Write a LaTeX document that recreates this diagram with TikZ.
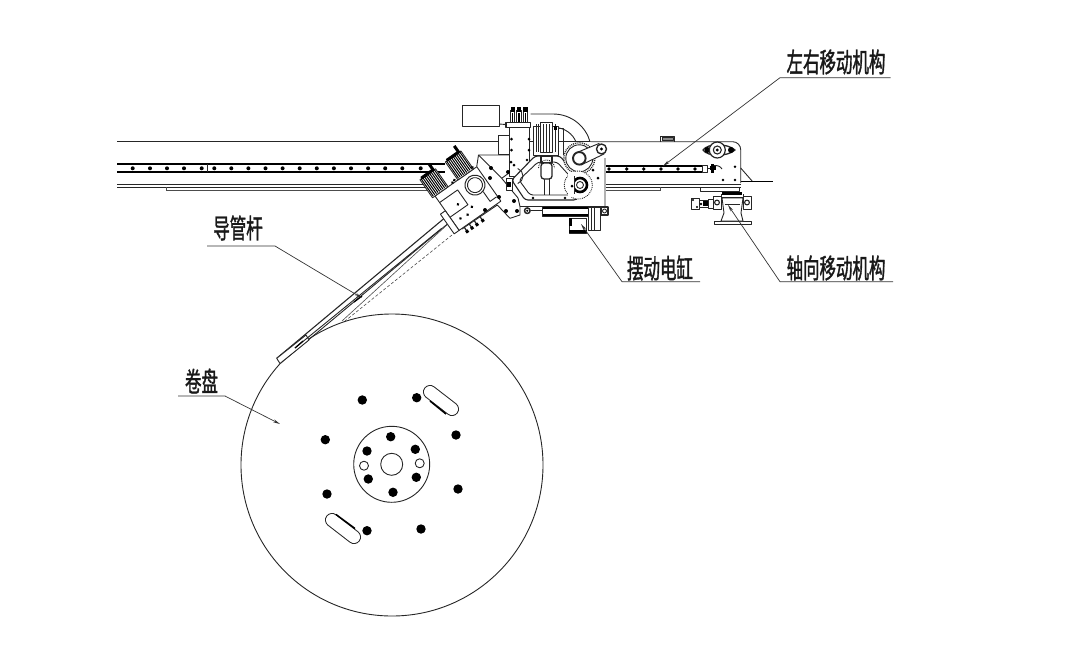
\documentclass[tikz,border=0pt]{standalone}
\usepackage{fontspec}
\usetikzlibrary{arrows.meta}
\newfontfamily\cjk[FakeStretch=0.61,FakeBold=1.3]{Noto Sans CJK SC}
\tikzset{
  ln/.style={draw=black!85,line width=0.9pt,line join=round},
  thin ln/.style={draw=black!70,line width=0.6pt},
  heavy/.style={draw=black,line width=2pt},
  part/.style={draw=black!85,line width=0.9pt,fill=white,line join=round},
  lbl/.style={inner sep=0pt,font=\cjk\fontsize{27}{27}\selectfont,text=black!90},
  lead/.style={draw=black!80,line width=0.7pt},
  tip/.style={-{Stealth[length=7pt,width=3pt]}}
}
\begin{document}
\begin{tikzpicture}[x=1pt,y=-1pt]
\useasboundingbox (0,0) rectangle (1080,657);
% ---- reel
\draw[ln] (392,465) circle (151);
\draw[ln] (391.7,464.3) circle (38);
\draw[ln] (391.7,464.3) circle (11);
\foreach \p in {(364,465.7),(419.7,463.3)} \draw[ln] \p circle (4.5);
\foreach \p in {(390.7,436.7),(367,451),(415.3,449.3),(368.3,479),(416.3,477.3),(393,492.3),
  (362.3,400),(416.7,397.7),(325.3,439.7),(456,435),(327,494),(458,489),(367,530.7),(421,529)}
  \fill[black] \p circle (4.7);
\draw[black!85,line width=14pt,line cap=round] (430,392) -- (452,409);
\draw[white,line width=12pt,line cap=round] (430,392) -- (452,409);
\draw[line width=1.5pt] (430,401) -- (446,414);
\draw[black!85,line width=14pt,line cap=round] (332,520) -- (354,537);
\draw[white,line width=12pt,line cap=round] (332,520) -- (354,537);
\draw[line width=1.5pt] (336,514.5) -- (355,528.5);
% ---- rail, left
\draw[ln] (117,141.7) -- (498,141.7);
\draw[heavy] (117,164.3) -- (445,164.3);
\draw[heavy] (117,172.3) -- (445,172.3);
\draw[ln] (207.7,164.3) -- (207.7,172.3);
\foreach \x in {132.7,150,167,184,201.7,214.3,231.3,248.4,265.5,282.6,299.7,316.8,333.9,351,368.1,385.2,402.3,420.7}
  \fill[black] (\x,168.3) circle (2);
\draw[ln,line width=1.2pt] (117,184.6) -- (445,184.6);
\draw[ln] (117,187) -- (445,187);
\draw[thin ln] (166,187) -- (166,190.5) -- (440,190.5);
% ---- rail, right
\draw[ln,rounded corners=8pt] (590,141.7) -- (740.7,141.7) -- (740.7,183);
\draw[heavy] (606,166) -- (701.7,166);
\draw[heavy] (606,172.3) -- (701.7,172.3);
\foreach \x in {609,626.7,643.7,661,678,695} \fill[black] (\x,169) circle (1.9);
\draw[ln,line width=1.2pt] (606,184.6) -- (741,184.6);
\draw[ln] (606,187) -- (741,187);
\draw[thin ln] (606,190.5) -- (660,190.5) -- (660,187);
\draw[ln] (700,187) -- (700,191.2) -- (739,191.2) -- (739,187);
\draw[ln] (660,141.7) -- (660,136.3) -- (674.5,136.3) -- (674.5,141.7);
\draw[ln,fill=black!45] (662,137.5) rectangle (673,140.5);
% wire
\draw[ln] (740.7,168) -- (752.7,181.7);
\draw[line width=1.3pt] (740.7,181.7) -- (773,181.7);
% bearing
\draw[ln,line width=1.3pt] (703,150) .. controls (708,143) and (727,143) .. (735,150) .. controls (727,157) and (708,157) .. (703,150) -- cycle;
\fill[black] (707.5,150) circle (3) (731,150) circle (3);
\draw[part,line width=1.2pt] (717.3,150) circle (8);
\draw[ln,line width=1.1pt] (717.3,150) circle (4);
\fill[black] (717.3,150) circle (1.6);
% coupling
\draw[part] (702,165) rectangle (707,172);
\draw[ln] (707,168) -- (711,168);
\fill[black] (711,163.5) rectangle (714,172.5);
\fill[black] (709.5,165.5) rectangle (716,170);
\draw[ln] (714,165.5) .. controls (718,165.5) and (720,166) .. (722,169);
% plate dots
\foreach \p in {(735,166.7),(735,180),(723,180)} \fill[black] \p circle (1.4);
% ---- axial unit
\draw[part] (714,221) rectangle (751.7,224.6);
\draw[part] (722,198) -- (724,213) -- (721,221) -- (743,221) -- (741,213) -- (743,198) -- cycle;
\draw[ln] (724.5,204) -- (739.5,204);
\fill[black] (722,192) rectangle (742,194.5);
\draw[ln,line width=1.2pt] (720,197.5) -- (744,197.5);
\draw[ln] (721,194) -- (721,198) (743,194) -- (743,198);
\draw[part] (713,196) rectangle (721,209);
\draw[part] (743,196) rectangle (751,209);
\draw[ln,line width=1.1pt] (717,202.5) circle (2.4) (747,202.5) circle (2.4);
\draw[part] (691,198.5) rectangle (699,209.5);
\draw[part] (699,200.5) rectangle (708,207.5);
\draw[part] (708,199) rectangle (713,208);
\fill[black] (693,200) circle (1.2) (697,207) circle (1.2) (701,204) circle (1.4);
\fill[black] (703,201) rectangle (708,206);
% ---- guide tube
\draw[ln,line width=1.1pt] (447,216) -- (276.7,358.3);
\draw[ln] (451,221) -- (280.7,363);
\draw[part] (276.7,358.3) -- (280,363.5) -- (309,340) -- (306,335) -- cycle;
\draw[line width=1.3pt] (362,296) -- (354,302);
\draw[ln] (441.7,228.3) -- (295,348);
\draw[line width=1.2pt] (303,341) -- (295,348);
\draw[thin ln,densely dashed] (452,235) -- (345,321);
\draw[thin ln] (448,224) -- (342,321);
% ---- cable arcs
\draw[ln] (530.7,114) -- (553,114) .. controls (572,114) and (586,127) .. (590,141.7);
\draw[ln] (555,127.3) .. controls (565,128) and (573,134) .. (576,142);
% ---- top left box
\draw[ln,line width=1pt] (462.7,105) rectangle (499.3,126.7);
% ---- machine body plate
\fill[white] (498.3,142) -- (590,142) -- (605,150) -- (605,206.5) -- (520,206.5) -- (520,215) -- (510,218.3) -- (497.3,205) -- (481.7,216.7) -- (462,229) -- (435,196) -- (476.7,166.7) -- (478.5,155) -- cycle;
\draw[ln] (605,158) -- (605,206.5) -- (520,206.5) -- (520,215) -- (510,218.3) -- (497.3,205) -- (462,229);
\draw[ln] (476.7,166.7) -- (478.5,155) -- (509,155);
\draw[part] (498.3,135.7) rectangle (509.3,154);
\draw[ln] (509.3,141.7) -- (590,141.7);
% ---- left plate contour
\draw[ln] (478.5,155) -- (501.7,178.3) -- (509,173);
\draw[ln] (501.7,178.3) -- (518,198) -- (520,206.5);
% ---- column and valves
\draw[part] (509.3,127) rectangle (529.3,176);
\draw[part,line width=1.2pt] (506,122.3) rectangle (530.7,127.3);
\draw[ln] (506,124.5) -- (499,124);
\foreach \x in {512.7,519,525.3}{
  \draw[part] (\x-2.2,110) rectangle (\x+2.2,122.3);
  \fill[black] (\x-2.2,107.3) rectangle (\x+2.2,112);
  \draw[line width=1.2pt] (\x,113) -- (\x,122);
}
\foreach \p in {(511.5,139),(511.5,150),(511,162),(529,139),(529,150),(514,165),(526,171)} \fill[black] \p circle (1.5);
% ---- cylinder
\draw[part] (533.3,126.5) rectangle (558.3,155);
\draw[part] (540.7,122.3) rectangle (552.7,152);
\foreach \x in {536,538.5,543.5,546.5,549.5,555.5} \draw[ln] (\x,124) -- (\x,152);
\fill[black] (553.5,126) rectangle (556.5,130);
\draw[ln] (558.3,128) -- (563,128) -- (563,155);
% ---- linkage
\draw[part,line width=1.1pt,rounded corners=3pt] (535,156) -- (560,156) -- (585,187) -- (576.7,200) -- (525,200) -- (511.7,180) -- cycle;
\draw[ln,rounded corners=3pt] (538,162) -- (557,162) -- (577,184) -- (571,195) -- (530,195) -- (519,180) -- cycle;
\draw[ln] (544.5,178) -- (544.5,195) (549,178) -- (549,195);
\draw[part,line width=1.2pt] (541,156) rectangle (552,163);
\draw[part,line width=1.3pt,rounded corners=3pt] (541,163) rectangle (552,179);
\draw[ln,densely dotted] (538.5,168) arc[start angle=180,end angle=360,radius=8];
\foreach \p in {(533,198),(565,198),(527,160),(565,160)} \fill[black] \p circle (1.4);
\draw[ln] (569,182) arc[start angle=180,end angle=250,radius=8] (569,182) arc[start angle=180,end angle=110,radius=8];
\draw[ln] (523,176) arc[start angle=0,end angle=70,radius=8] (523,176) arc[start angle=0,end angle=-70,radius=8];
% left-side clamp
\draw[part] (506,178) rectangle (512,190);
\fill[black] (507,182) rectangle (511,187);
% ---- gear and arm
\draw[part,densely dotted,line width=1.4pt] (579.3,158.3) circle (15.5);
\draw[part] (579.3,158.3) circle (13.5);
\draw[part] (578,152) -- (599,143.5) -- (604,154) -- (581,165) -- cycle;
\draw[part,line width=1.4pt] (601.5,149) circle (5);
\fill[black] (601.5,149) circle (1.6);
\draw[part,line width=1.9pt] (579.3,158.3) circle (6.3);
% ---- lower pulley
\draw[part,densely dotted] (578.3,185) circle (14);
\draw[draw=black,line width=2.6pt,fill=white] (580,185) circle (7);
\draw[ln] (580,185) circle (3.5);
\fill[white] (568,172) rectangle (575,197);
\draw[ln] (574,176) -- (574,194);
\fill[black] (572,186) circle (1.5);
\foreach \p in {(598,178),(593,170)} \fill[black] \p circle (1.5);
% ---- swing cylinder
\draw[part] (569.3,218) rectangle (586.7,233.3);
\fill[black] (569.3,229.5) rectangle (586.7,233.3);
\fill[black] (569.3,218) rectangle (572,226);
\draw[ln,line width=1.4pt] (531,210.7) -- (543,210.7);
\draw[part,line width=1.5pt] (527.3,210.7) circle (2.8);
\fill[black] (527.3,210.7) circle (1.1);
\draw[part] (542.7,206.7) rectangle (590,216);
\fill[black] (542.7,206.5) rectangle (588,209);
\fill[black] (542.7,213.5) rectangle (590,216);
\draw[part] (588,207) rectangle (600,230);
\draw[ln] (591,207) -- (591,230) (594,207) -- (594,230);
\draw[part,line width=1.1pt] (601,207) rectangle (608,215);
\draw[ln] (604.5,211) circle (2);
% ---- tilted head
\begin{scope}[shift={(435,196)},rotate=35]
  \draw[part] (0,0) rectangle (51,42);
  \draw[ln] (0,8) -- (22,8) -- (22,26) -- (0,26);
  \draw[part,line width=1pt] (39,14) circle (10);
  \draw[ln] (39,14) circle (7.5);
  \draw[ln] (42,24) -- (42,36) -- (50,36);
  \foreach \a in {-3,28}{
    \begin{scope}[shift={(\a,-22)}]
      \draw[part] (0,0) rectangle (19,22);
      \foreach \s in {1.5,3.5,...,17.5} \draw[line width=1pt] (\s,0) -- (\s,21);
      \fill[black] (2,-2) rectangle (17,1);
      \fill[black] (15,-8) rectangle (18,0);
    \end{scope}
  }
  \foreach \a in {6,12,18,25}{
    \draw[ln,line width=1.2pt] (\a,42) -- (\a,48);
    \fill[black] (\a-1.5,46) rectangle (\a+1.5,49);
  }
  \foreach \p in {(16,34),(24,30),(8,33),(14,20),(25,-2),(22,-1),(47,-2)} \fill[black] \p circle (1.5);
  \draw[part] (-6,18) rectangle (0,42);
\end{scope}
\foreach \p in {(491,168),(508,172),(490,178),(499,197),(514,201),(506,211),(517,211),(485,210)} \fill[black] \p circle (2);
% ---- labels
\node[lbl] (t1) at (836,62) {左右移动机构};
\node[lbl] (t2) at (836,268) {轴向移动机构};
\node[lbl] (t3) at (660,268) {摆动电缸};
\node[lbl] (t4) at (238,228) {导管杆};
\node[lbl] (t5) at (201.5,381) {卷盘};
\coordinate (u1a) at (780,77.7); \coordinate (u1b) at (890.7,77.7); \coordinate (e1) at (663,166);
\coordinate (u2a) at (780,281.7); \coordinate (u2b) at (893,281.7); \coordinate (e2) at (728,205);
\coordinate (u3a) at (622,281.7); \coordinate (u3b) at (700,281.7); \coordinate (e3) at (581,224);
\coordinate (u4a) at (207,246); \coordinate (u4b) at (275,246); \coordinate (e4) at (362,298);
\coordinate (u5a) at (178,396); \coordinate (u5b) at (225,396); \coordinate (e5) at (280,424);
\draw[lead,tip] (u1b) -- (u1a) -- (e1);
\draw[lead,tip] (u2b) -- (u2a) -- (e2);
\draw[lead,tip] (u3b) -- (u3a) -- (e3);
\draw[lead,tip] (u4a) -- (u4b) -- (e4);
\draw[lead,tip] (u5a) -- (u5b) -- (e5);
\end{tikzpicture}
\end{document}
